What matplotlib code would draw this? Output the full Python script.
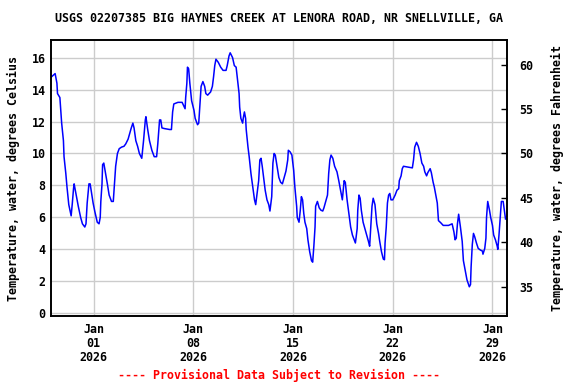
import numpy as np
import pandas as pd
import matplotlib
matplotlib.use("Agg")
import matplotlib.pyplot as plt
import matplotlib.dates as mdates

# -----------------------------
# Data
# -----------------------------

site_title = "USGS 02207385 BIG HAYNES CREEK AT LENORA ROAD, NR SNELLVILLE, GA"
start = pd.Timestamp("2025-12-29 00:00")
end = pd.Timestamp("2026-01-30 00:00")

# hours since start
hours = [
    1, 7, 10, 11, 15, 18, 21, 22, 25, 27, 30, 34, 36, 38, 39, 42, 46, 50, 53, 57,
    59, 61, 64, 66, 69, 71, 74, 78, 81, 83, 84, 86, 87, 89, 92, 95, 98, 102, 105, 107,
    109, 112, 115, 119, 123, 126, 130, 135, 138, 140, 143, 146, 149, 153, 156, 159, 160, 163, 166, 170,
    174, 178, 180, 183, 185, 187, 191, 200, 203, 205, 207, 214, 221, 224, 226, 227, 229, 230, 232, 234,
    237, 241, 243, 247, 249, 251, 253, 256, 259, 261, 264, 269, 272, 274, 276, 278, 282, 286, 290, 295,
    297, 300, 302, 306, 309, 312, 315, 317, 318, 320, 323, 324, 326, 328, 329, 332, 334, 337, 340, 343,
    345, 347, 350, 352, 354, 356, 359, 361, 364, 367, 369, 372, 374, 376, 378, 381, 384, 387, 390, 393,
    396, 399, 400, 403, 406, 409, 411, 414, 415, 418, 420, 422, 424, 426, 428, 431, 433, 436, 439, 441,
    443, 445, 446, 449, 452, 455, 458, 460, 463, 466, 468, 470, 472, 475, 478, 482, 485, 489, 491, 494,
    496, 499, 502, 505, 508, 511, 513, 516, 517, 519, 521, 523, 526, 529, 532, 535, 537, 539, 541, 543,
    546, 549, 552, 554, 557, 560, 562, 563, 565, 567, 569, 571, 573, 576, 580, 583, 586, 587, 590, 592,
    594, 609, 611, 613, 616, 619, 622, 625, 628, 630, 633, 635, 639, 641, 644, 646, 648, 651, 653, 657,
    661, 670, 676, 679, 681, 683, 685, 687, 690, 693, 695, 698, 701, 705, 707, 708, 710, 712, 714, 717,
    720, 724, 727, 728, 731, 733, 734, 736, 739, 741, 744, 746, 749, 752, 753, 755, 757, 759, 762, 764,
    766,
]

temp_c = [
    14.8, 15.0, 14.4, 13.75, 13.5, 11.9, 10.8, 9.8, 8.75, 7.9, 6.8, 6.1, 6.9, 7.8, 8.1, 7.5, 6.7, 6.0, 5.6, 5.4,
    5.6, 6.9, 8.1, 8.1, 7.4, 6.9, 6.35, 5.7, 5.6, 6.0, 7.0, 8.1, 9.3, 9.4, 8.75, 8.1, 7.4, 7.0, 7.0, 8.1,
    9.2, 10.0, 10.3, 10.4, 10.45, 10.6, 10.9, 11.56, 11.9, 11.6, 10.8, 10.45, 10.0, 9.7, 10.8, 12.1, 12.3, 11.5, 10.8, 10.2,
    9.8, 9.8, 10.6, 12.1, 12.1, 11.6, 11.56, 11.5, 11.5, 12.6, 13.1, 13.2, 13.2, 12.96, 12.8, 13.5, 14.4, 15.4, 15.3, 14.4,
    13.3, 12.7, 12.2, 11.8, 11.9, 13.1, 14.2, 14.5, 14.2, 13.75, 13.65, 13.85, 14.2, 14.8, 15.5, 15.9, 15.7, 15.4, 15.2, 15.2,
    15.5, 16.1, 16.3, 16.0, 15.5, 15.4, 14.4, 13.75, 12.9, 12.2, 11.9, 12.2, 12.6, 12.2, 11.5, 10.4, 9.8, 8.75, 7.9, 7.1,
    6.8, 7.4, 8.3, 9.6, 9.7, 9.2, 8.3, 7.7, 7.1, 6.8, 6.4, 7.3, 9.4, 10.0, 9.9, 9.2, 8.5, 8.2, 8.1, 8.5,
    8.9, 9.6, 10.2, 10.1, 9.9, 8.95, 7.9, 6.7, 6.0, 5.7, 6.4, 7.3, 7.1, 6.25, 5.7, 5.3, 4.6, 3.85, 3.3, 3.2,
    4.2, 5.4, 6.7, 7.0, 6.6, 6.45, 6.4, 6.6, 7.0, 7.4, 8.75, 9.6, 9.9, 9.7, 9.2, 8.85, 8.3, 7.5, 7.1, 8.3,
    8.2, 7.1, 6.25, 5.4, 4.9, 4.6, 4.4, 5.3, 6.45, 7.4, 7.2, 6.45, 5.7, 5.3, 4.9, 4.5, 4.2, 5.4, 6.7, 7.2,
    6.8, 5.6, 5.0, 4.5, 3.85, 3.4, 3.35, 4.4, 5.4, 6.9, 7.4, 7.5, 7.1, 7.1, 7.4, 7.7, 7.8, 8.3, 8.6, 9.05,
    9.2, 9.1, 9.6, 10.4, 10.7, 10.45, 10.0, 9.4, 9.2, 8.85, 8.6, 8.8, 9.05, 8.8, 8.2, 7.9, 7.5, 6.9, 5.8, 5.66,
    5.5, 5.5, 5.6, 5.1, 4.6, 4.7, 5.6, 6.2, 5.4, 4.5, 3.3, 2.7, 2.1, 1.66, 1.8, 2.9, 4.3, 5.0, 4.8, 4.4,
    4.06, 3.95, 3.9, 3.7, 4.06, 4.7, 6.0, 7.0, 6.45, 6.0, 5.5, 4.9, 4.6, 4.2, 4.0, 4.9, 6.0, 7.0, 7.0, 6.45,
    5.9,
]

c_ticks = [0, 2, 4, 6, 8, 10, 12, 14, 16]
f_ticks = [35, 40, 45, 50, 55, 60]
date_ticks = ["2026-01-01", "2026-01-08", "2026-01-15", "2026-01-22", "2026-01-29"]

times = start + pd.to_timedelta(hours, unit="h")

# -----------------------------
# Plot
# -----------------------------

font = {"family": "DejaVu Sans Mono", "weight": "bold", "size": 8.4}

fig = plt.figure(figsize=(5.76, 3.84), dpi=100)
ax = fig.add_axes([0.0885, 0.177, 0.7912, 0.7188])

ax.plot(times, temp_c, color="#0000ff", linewidth=1.1)

ylo, yhi = -0.17, 17.1
ax.set_xlim(start, end)
ax.set_ylim(ylo, yhi)

ax.set_yticks(c_ticks)
ax.set_xticks(pd.to_datetime(date_ticks))
ax.xaxis.set_major_formatter(mdates.DateFormatter("%b\n%d\n%Y"))
ax.grid(True, color="#cccccc", linewidth=1.0)
ax.set_axisbelow(True)
ax.tick_params(axis="both", length=0, pad=4)
ax.tick_params(axis="x", pad=5)
for lbl in ax.get_xticklabels() + ax.get_yticklabels():
    lbl.set_fontproperties(matplotlib.font_manager.FontProperties(**font))
    lbl.set_linespacing(1.08)

ax.set_ylabel("Temperature, water, degrees Celsius", fontdict=font, labelpad=8)

# Fahrenheit axis on the right
ax2 = ax.twinx()
ax2.set_ylim(ylo * 9 / 5 + 32, yhi * 9 / 5 + 32)
ax2.set_yticks(f_ticks)
ax2.tick_params(axis="y", direction="in", length=4, width=1, pad=9)
for lbl in ax2.get_yticklabels():
    lbl.set_fontproperties(matplotlib.font_manager.FontProperties(**font))
ax2.set_ylabel("Temperature, water, degrees Fahrenheit", fontdict=font, labelpad=13)

for a in (ax, ax2):
    for s in a.spines.values():
        s.set_linewidth(1.2)

fig.text(0.484, 0.952, site_title, ha="center", va="center", fontdict=font)
fig.text(0.484, 0.023, "---- Provisional Data Subject to Revision ----",
         ha="center", va="center", color="#ff0000", fontdict=font)

fig.savefig("out.png", dpi=100)
